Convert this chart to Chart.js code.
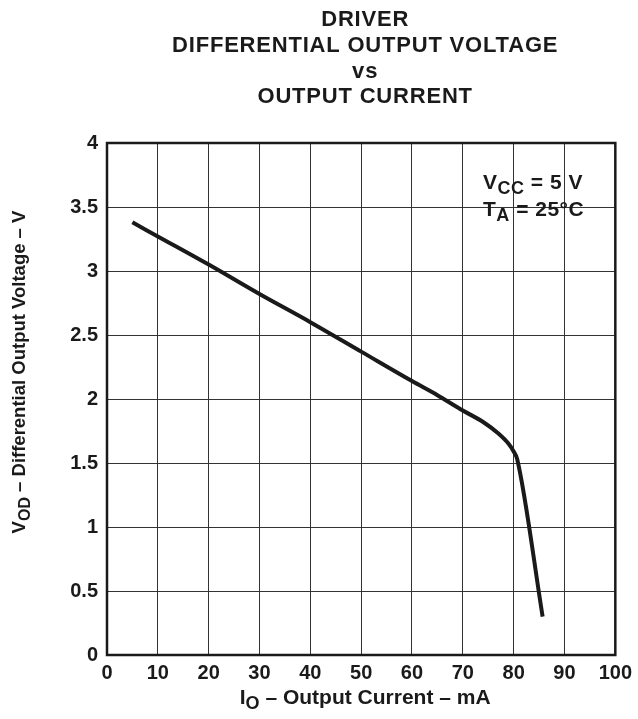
<!DOCTYPE html>
<html>
<head>
<meta charset="utf-8">
<script src="https://cdn.jsdelivr.net/npm/chart.js@4"></script>
<style>
  html, body { margin: 0; padding: 0; background: #fff; }
  #wrap { width: 638px; height: 719px; }
</style>
</head>
<body>
<div id="wrap"><canvas id="myChart" width="638" height="719"></canvas></div>
<script>
// values
const currentMA = [5, 10, 20, 30, 40, 50, 60, 65, 70, 74, 77, 79, 80, 80.7, 85.7];
const voltageV = [3.38, 3.27, 3.05, 2.82, 2.6, 2.37, 2.14, 2.03, 1.91, 1.82, 1.73, 1.65, 1.59, 1.53, 0.3];
const titleLines = ['DRIVER', 'DIFFERENTIAL OUTPUT VOLTAGE', 'vs', 'OUTPUT CURRENT'];

const FONT = '"Liberation Sans", Arial, sans-serif';
const INK = '#1a1a1a';

// draws "main" + subscript + rest, starting at x (left aligned)
function subText(ctx, x, y, main, sub, rest, size) {
  ctx.font = `bold ${size}px ${FONT}`;
  ctx.fillText(main, x, y);
  x += ctx.measureText(main).width;
  ctx.font = `bold ${Math.round(size * 0.85)}px ${FONT}`;
  ctx.fillText(sub, x, y + size * 0.3);
  x += ctx.measureText(sub).width;
  ctx.font = `bold ${size}px ${FONT}`;
  ctx.fillText(rest, x, y);
}

function subWidth(ctx, main, sub, rest, size) {
  ctx.font = `bold ${size}px ${FONT}`;
  let w = ctx.measureText(main).width + ctx.measureText(rest).width;
  ctx.font = `bold ${Math.round(size * 0.85)}px ${FONT}`;
  return w + ctx.measureText(sub).width;
}

const decorations = {
  id: 'decorations',
  afterDraw(chart) {
    const ctx = chart.ctx;
    const a = chart.chartArea;
    ctx.save();

    // frame
    ctx.strokeStyle = INK;
    ctx.lineWidth = 2.5;
    ctx.strokeRect(a.left, a.top, a.right - a.left, a.bottom - a.top);

    ctx.fillStyle = INK;
    ctx.textBaseline = 'middle';

    // title
    ctx.textAlign = 'center';
    ctx.font = `bold 22px ${FONT}`;
    ctx.letterSpacing = '0.8px';
    const cx = (a.left + a.right) / 2 + 4;
    const ys = [20, 46, 72, 97];
    titleLines.forEach((t, i) => ctx.fillText(t, cx, ys[i]));
    ctx.letterSpacing = '0.5px';

    // annotation
    ctx.textAlign = 'left';
    subText(ctx, 483, 183, 'V', 'CC', ' = 5 V', 21);
    subText(ctx, 483, 210, 'T', 'A', ' = 25°C', 21);
    ctx.letterSpacing = '0px';

    // x axis title
    let w = subWidth(ctx, 'I', 'O', ' – Output Current – mA', 21);
    subText(ctx, cx - w / 2, 698, 'I', 'O', ' – Output Current – mA', 21);

    // y axis title
    ctx.translate(20, 372);
    ctx.rotate(-Math.PI / 2);
    w = subWidth(ctx, 'V', 'OD', ' – Differential Output Voltage – V', 18.5);
    subText(ctx, -w / 2, 0, 'V', 'OD', ' – Differential Output Voltage – V', 18.5);

    ctx.restore();
  }
};

const ctx = document.getElementById('myChart');

new Chart(ctx, {
  type: 'line',
  data: {
    datasets: [{
      data: currentMA.map((x, i) => ({ x: x, y: voltageV[i] })),
      borderColor: INK,
      borderWidth: 4,
      pointRadius: 0,
      fill: false,
      cubicInterpolationMode: 'monotone'
    }]
  },
  options: {
    responsive: false,
    animation: false,
    layout: { padding: { top: 143, right: 20, left: 0, bottom: 0 } },
    plugins: {
      legend: { display: false },
      tooltip: { enabled: false }
    },
    scales: {
      x: {
        type: 'linear',
        min: 0,
        max: 100,
        ticks: {
          stepSize: 10,
          color: INK,
          padding: 6,
          maxRotation: 0,
          font: { family: FONT, size: 20, weight: 'bold' }
        },
        grid: { color: '#333', lineWidth: 1, drawTicks: false },
        border: { display: false },
        afterFit(scale) { scale.height = 64; }
      },
      y: {
        min: 0,
        max: 4,
        ticks: {
          stepSize: 0.5,
          color: INK,
          padding: 9,
          callback: v => String(v),
          font: { family: FONT, size: 20, weight: 'bold' }
        },
        grid: { color: '#333', lineWidth: 1, drawTicks: false },
        border: { display: false },
        afterFit(scale) { scale.width = 107; }
      }
    }
  },
  plugins: [decorations]
});
</script>
</body>
</html>
